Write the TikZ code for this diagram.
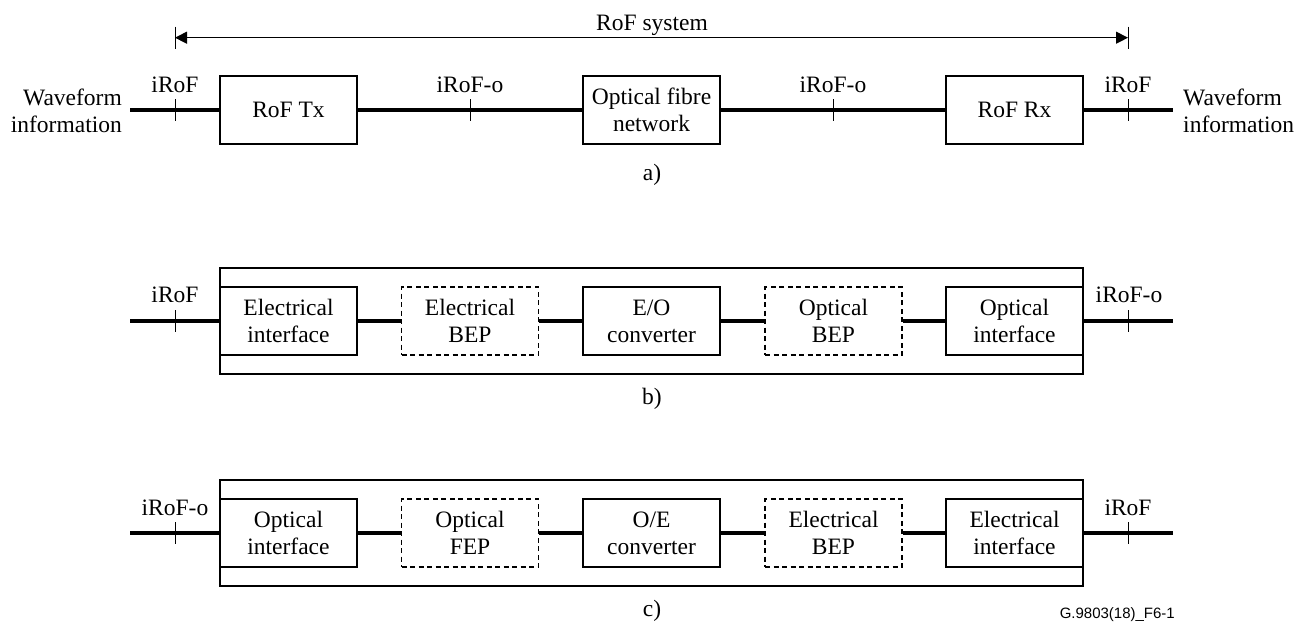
\documentclass[tikz,border=0pt]{standalone}
\usepackage{fontspec}
\setmainfont{Liberation Serif}
\newfontfamily\figsans{Liberation Sans}
\usetikzlibrary{arrows.meta}
\tikzset{
  txt/.style={font=\fontsize{23.5}{27}\selectfont, inner sep=0pt},
  blk/.style={txt, draw, line width=1.3pt, minimum width=137pt, minimum height=68pt, align=center},
  dblk/.style={blk, dashed, dash pattern=on 5pt off 3.5pt},
  outerbox/.style={draw, line width=1.3pt, minimum width=863pt, minimum height=106pt, inner sep=0pt},
  conn/.style={line width=3.2pt},
  tickmark/.style={line width=1pt},
  lbl/.style={txt, anchor=base},
  dim/.style={line width=1pt, {Triangle[length=12pt,width=12pt]}-{Triangle[length=12pt,width=12pt]}}
}
\begin{document}
\begin{tikzpicture}[x=1pt,y=-1pt]
\useasboundingbox (0,0) rectangle (1308,624);

% ---------------- a) ----------------
\node[lbl] (sys) at (652,30) {RoF system};
\coordinate (dL) at (175,37.7);
\coordinate (dR) at (1128,37.7);
\draw[dim] (dL) -- (dR);
\draw[tickmark] ([yshift=11pt]dL) -- ([yshift=-11pt]dL);
\draw[tickmark] ([yshift=11pt]dR) -- ([yshift=-11pt]dR);

\node[blk] (tx) at (288.5,110) {RoF Tx};
\node[blk] (fib) at (651.5,110) {Optical fibre\\network};
\node[blk] (rx) at (1014.5,110) {RoF Rx};
\coordinate (aL) at (130,110);
\coordinate (aR) at (1173,110);
\draw[conn] (aL) -- (tx.west);
\draw[conn] (tx.east) -- (fib.west);
\draw[conn] (fib.east) -- (rx.west);
\draw[conn] (rx.east) -- (aR);
\foreach \x/\n in {175/a1,470/a2,833/a3,1128/a4}{
  \coordinate (\n) at (\x,110);
  \draw[tickmark] ([yshift=11pt]\n) -- ([yshift=-11pt]\n);
}
\node[lbl] (la1) at (175,92) {iRoF};
\node[lbl] (la2) at (470,92) {iRoF-o};
\node[lbl] (la3) at (833,92) {iRoF-o};
\node[lbl] (la4) at (1128,92) {iRoF};
\node[txt, align=right, anchor=base east] (wl) at (122,132) {Waveform\\information};
\node[txt, align=left, anchor=base west] (wr) at (1183,132) {Waveform\\information};
\node[lbl] (capa) at (652,180) {a)};

% ---------------- b) ----------------
\node[outerbox] (ob) at (651.5,321) {};
\node[blk] (b1) at (288.5,321) {Electrical\\interface};
\node[dblk] (b2) at (470,321) {Electrical\\BEP};
\node[blk] (b3) at (651.5,321) {E/O\\converter};
\node[dblk] (b4) at (833.5,321) {Optical\\BEP};
\node[blk] (b5) at (1014.5,321) {Optical\\interface};
\coordinate (bL) at (130,321);
\coordinate (bR) at (1173,321);
\draw[conn] (bL) -- (b1.west);
\draw[conn] (b1.east) -- (b2.west);
\draw[conn] (b2.east) -- (b3.west);
\draw[conn] (b3.east) -- (b4.west);
\draw[conn] (b4.east) -- (b5.west);
\draw[conn] (b5.east) -- (bR);
\foreach \x/\n in {175/bt1,1128/bt2}{
  \coordinate (\n) at (\x,321);
  \draw[tickmark] ([yshift=11pt]\n) -- ([yshift=-11pt]\n);
}
\node[lbl] (lb1) at (175,302) {iRoF};
\node[lbl] (lb2) at (1129,302) {iRoF-o};
\node[lbl] (capb) at (652,404) {b)};

% ---------------- c) ----------------
\node[outerbox] (oc) at (651.5,533) {};
\node[blk] (c1) at (288.5,533) {Optical\\interface};
\node[dblk] (c2) at (470,533) {Optical\\FEP};
\node[blk] (c3) at (651.5,533) {O/E\\converter};
\node[dblk] (c4) at (833.5,533) {Electrical\\BEP};
\node[blk] (c5) at (1014.5,533) {Electrical\\interface};
\coordinate (cL) at (130,533);
\coordinate (cR) at (1173,533);
\draw[conn] (cL) -- (c1.west);
\draw[conn] (c1.east) -- (c2.west);
\draw[conn] (c2.east) -- (c3.west);
\draw[conn] (c3.east) -- (c4.west);
\draw[conn] (c4.east) -- (c5.west);
\draw[conn] (c5.east) -- (cR);
\foreach \x/\n in {175/ct1,1128/ct2}{
  \coordinate (\n) at (\x,533);
  \draw[tickmark] ([yshift=11pt]\n) -- ([yshift=-11pt]\n);
}
\node[lbl] (lc1) at (175,515) {iRoF-o};
\node[lbl] (lc2) at (1128,515) {iRoF};
\node[lbl] (capc) at (652,616) {c)};

\node[anchor=base east, inner sep=0pt, font=\figsans\fontsize{15}{18}\selectfont] (fid) at (1175,618) {G.9803(18)\_F6-1};
\end{tikzpicture}
\end{document}
